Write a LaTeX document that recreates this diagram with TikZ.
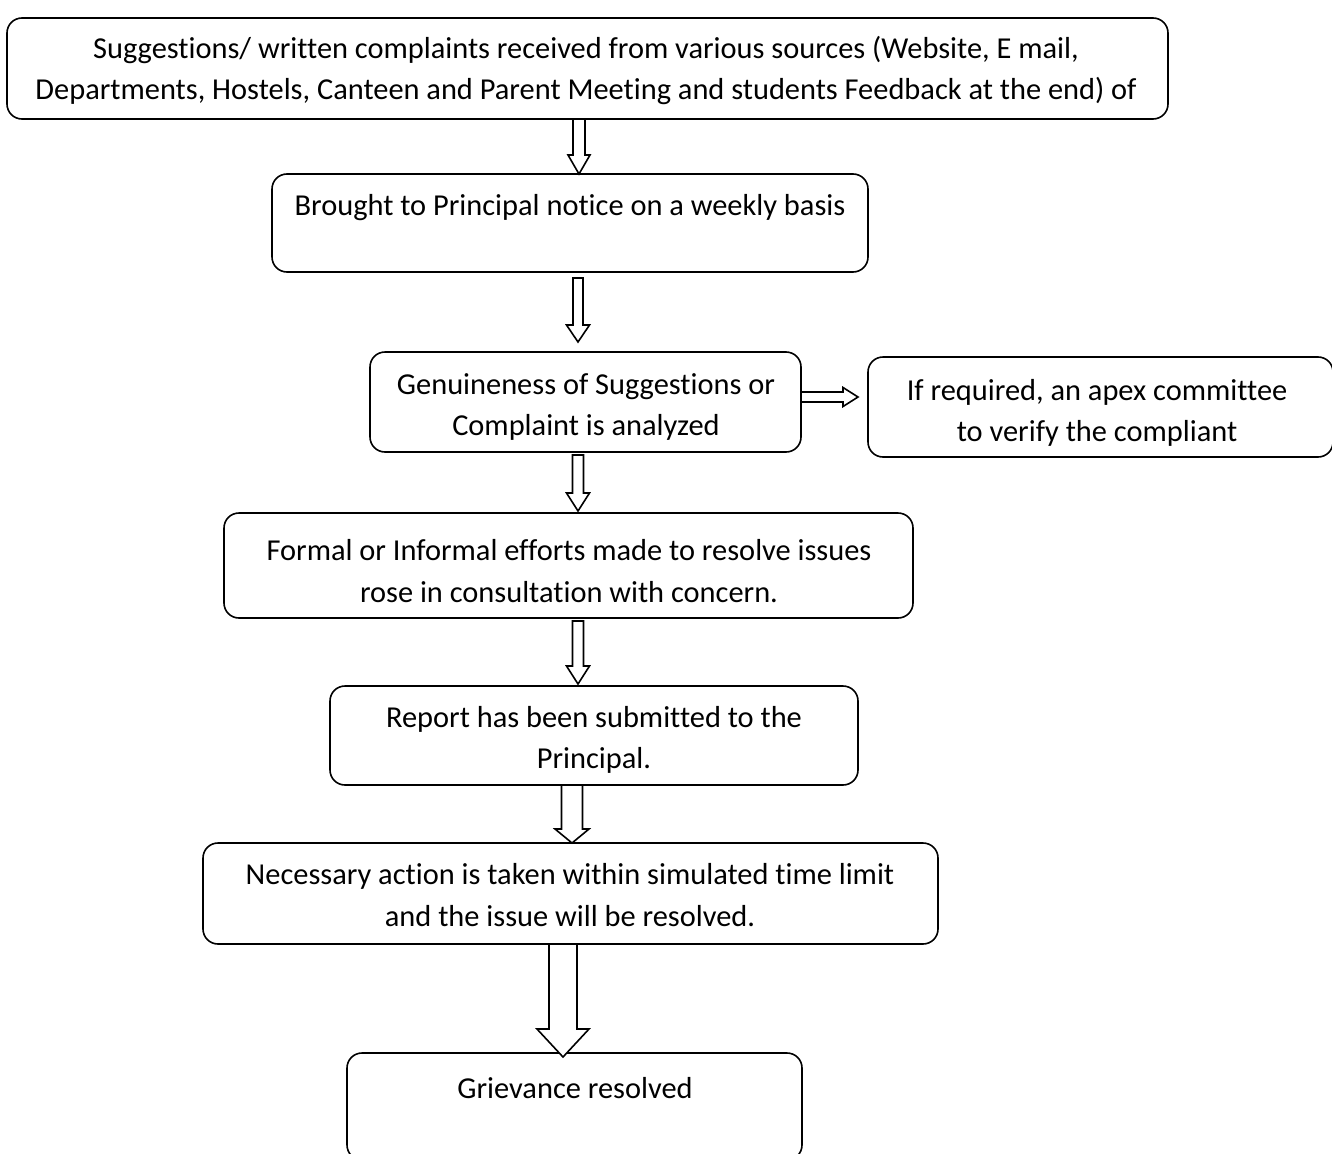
\documentclass[tikz,border=0pt]{standalone}
\usepackage{fontspec}
\setmainfont[Ligatures=NoCommon]{Carlito}
\usetikzlibrary{calc}
\tikzset{
 box/.style={draw, line width=1.6pt, rounded corners=15pt, outer sep=0pt, inner sep=0pt},
 txt/.style={align=center, font=\fontsize{30.4}{41.5}\selectfont, inner sep=0pt},
 blk/.style={draw, line width=1.6pt, fill=white, line join=miter}
}
\newcommand\vblk[5]{\draw[blk] let \p1=#1, \p2=#2 in (\x1-#3pt,\y1) -- (\x1-#3pt,\y2+#5pt) -- (\x1-#4pt,\y2+#5pt) -- (\x1,\y2) -- (\x1+#4pt,\y2+#5pt) -- (\x1+#3pt,\y2+#5pt) -- (\x1+#3pt,\y1) -- cycle;}
\newcommand\hblk[5]{\draw[blk] let \p1=#1, \p2=#2 in (\x1,\y1-#3pt) -- (\x2-#5pt,\y1-#3pt) -- (\x2-#5pt,\y1-#4pt) -- (\x2,\y1) -- (\x2-#5pt,\y1+#4pt) -- (\x2-#5pt,\y1+#3pt) -- (\x1,\y1+#3pt) -- cycle;}
\begin{document}
\begin{tikzpicture}[x=1pt,y=-1pt]
\path[use as bounding box, clip] (0,0) rectangle (1332,1153);
\fill[white] (0,0) rectangle (1332,1153);
% boxes
\node[box, minimum width=1161pt, minimum height=101pt] (b1) at (587.5,68.5) {};
\node[box, minimum width=596pt, minimum height=98pt] (b2) at (570,223) {};
\node[box, minimum width=431pt, minimum height=100pt] (b3) at (585.5,402) {};
\node[box, minimum width=465pt, minimum height=100pt] (side) at (1100.5,407) {};
\node[box, minimum width=689pt, minimum height=105pt] (b5) at (568.5,565.5) {};
\node[box, minimum width=528pt, minimum height=99pt] (b6) at (594,735.5) {};
\node[box, minimum width=735pt, minimum height=101pt] (b7) at (570.5,893.5) {};
\node[box, minimum width=455pt, minimum height=107pt] (b8) at (574.5,1106.5) {};
% texts
\node[txt] (t1) at (586,70.5) {Suggestions/ written complaints received from various sources (Website, E mail,\\Departments, Hostels, Canteen and Parent Meeting and students Feedback at the end) of};
\node[txt] (t2) at (570,208) {Brought to Principal notice on a weekly basis};
\node[txt] (t3) at (586,407) {Genuineness of Suggestions or\\Complaint is analyzed};
\node[txt] (t4) at (1097,413) {If required, an apex committee\\to verify the compliant};
\node[txt] (t5) at (569,571) {Formal or Informal efforts made to resolve issues\\rose in consultation with concern.};
\node[txt] (t6) at (594,740) {Report has been submitted to the\\Principal.};
\node[txt] (t7) at (570,895) {Necessary action is taken within simulated time limit\\and the issue will be resolved.};
\node[txt] (t8) at (575,1088) {Grievance resolved};
% block arrows
\vblk{(579,0 |- b1.south)}{(579,0 |- b2.north)}{6}{11}{19}
\vblk{($(578,0 |- b2.south)+(0,6)$)}{($(578,0 |- b3.north)+(0,-10)$)}{5}{11.5}{17}
\vblk{($(578,0 |- b3.south)+(0,3)$)}{($(578,0 |- b5.north)+(0,-2)$)}{5.5}{11.5}{18}
\vblk{($(578,0 |- b5.south)+(0,3)$)}{($(578,0 |- b6.north)+(0,-2)$)}{5.5}{11.5}{18}
\vblk{(572,0 |- b6.south)}{(572,0 |- b7.north)}{10.5}{17}{14}
\vblk{(563,0 |- b7.south)}{($(563,0 |- b8.north)+(0,4)$)}{14}{26}{28}
\hblk{($(b3.east)+(0,-5)$)}{($(side.west)+(-10,-10)$)}{5}{9.5}{15}
\end{tikzpicture}
\end{document}
